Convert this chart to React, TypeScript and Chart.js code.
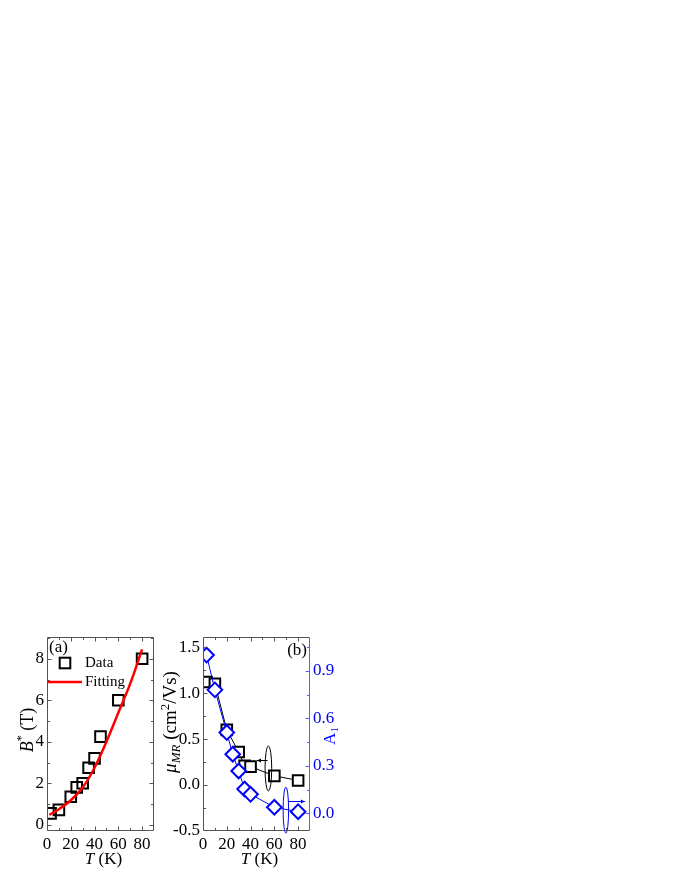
import React, { useEffect, useRef } from "react";
import { Chart, registerables } from "chart.js";

Chart.register(...registerables);

// ---------- Panel (a) data ----------
const tempA: number[] = [3, 10, 20, 25, 30, 35, 40, 45, 60, 80];
const bStarA: number[] = [0.55, 0.72, 1.35, 1.8, 2.0, 2.75, 3.2, 4.25, 6.0, 8.0];
const fitTemp: number[] = [2, 10, 20, 30, 40, 50, 60, 70, 80];
const fitB: number[] = [0.48, 0.75, 1.18, 1.8, 2.75, 4.0, 5.4, 6.8, 8.45];
const xTicksA: number[] = [0, 20, 40, 60, 80];
const yTicksA: number[] = [0, 2, 4, 6, 8];

// ---------- Panel (b) data ----------
const tempMu: number[] = [3, 10, 20, 30, 35, 40, 60, 80];
const muMR: number[] = [1.12, 1.1, 0.6, 0.36, 0.21, 0.2, 0.1, 0.05];
const tempA1: number[] = [3, 10, 20, 25, 30, 35, 40, 60, 80];
const a1Vals: number[] = [1.0, 0.78, 0.51, 0.373, 0.267, 0.153, 0.12, 0.038, 0.01];
const xTicksB: number[] = [0, 20, 40, 60, 80];
const yTicksB: number[] = [-0.5, 0, 0.5, 1.0, 1.5];
const y1TicksB: number[] = [0, 0.3, 0.6, 0.9];

const SERIF = '"Liberation Serif", "Times New Roman", serif';
const FRAME = "#555555";
const BLUE = "#0000ff";
const BLUE_AXIS = "#5a5aff";
const TICK_FONT = 17;

type Seg = { t: string; italic?: boolean; small?: boolean; dy?: number };

function drawRich(ctx: CanvasRenderingContext2D, segs: Seg[], cx: number, cy: number, rot: number, size: number, color: string, smallScale = 0.65) {
  ctx.save();
  ctx.translate(cx, cy);
  if (rot) ctx.rotate(rot);
  ctx.fillStyle = color;
  ctx.textBaseline = "alphabetic";
  ctx.textAlign = "left";
  const fonts = segs.map((s) => `${s.italic ? "italic " : ""}${s.small ? Math.round(size * smallScale) : size}px ${SERIF}`);
  let total = 0;
  const widths = segs.map((s, i) => {
    ctx.font = fonts[i];
    const w = ctx.measureText(s.t).width;
    total += w;
    return w;
  });
  let x = -total / 2;
  const base = size * 0.33;
  segs.forEach((s, i) => {
    ctx.font = fonts[i];
    ctx.fillText(s.t, x, base + (s.dy ?? 0) * size);
    x += widths[i];
  });
  ctx.restore();
}

function stepValues(min: number, max: number, step: number): number[] {
  const out: number[] = [];
  const start = Math.ceil(min / step - 1e-9) * step;
  for (let v = start; v <= max + 1e-9; v += step) out.push(Math.round(v * 1e6) / 1e6);
  return out;
}

function drawFrame(chart: any, opts: { xStep: number; yStep: number; y1?: { step: number; color: string } }) {
  const ctx: CanvasRenderingContext2D = chart.ctx;
  const { left, right, top, bottom } = chart.chartArea;
  const xs = chart.scales.x;
  const ys = chart.scales.y;
  const L = Math.round(left) + 0.5;
  const R = Math.round(right) - 0.5;
  const T = Math.round(top) + 0.5;
  const B = Math.round(bottom) - 0.5;
  const MAJ = 4;
  const MIN = 2.5;
  ctx.save();
  ctx.lineWidth = 1;
  ctx.strokeStyle = FRAME;
  ctx.beginPath();
  ctx.moveTo(L, T);
  ctx.lineTo(R, T);
  ctx.moveTo(L, B);
  ctx.lineTo(R, B);
  ctx.moveTo(L, T);
  ctx.lineTo(L, B);
  if (!opts.y1) {
    ctx.moveTo(R, T);
    ctx.lineTo(R, B);
  }
  stepValues(xs.min, xs.max, opts.xStep / 2).forEach((v) => {
    const p = Math.round(xs.getPixelForValue(v)) + 0.5;
    if (p <= L + 0.1 || p >= R - 0.1) return;
    const isMaj = Math.abs(v / opts.xStep - Math.round(v / opts.xStep)) < 1e-6;
    const len = isMaj ? MAJ : MIN;
    ctx.moveTo(p, B);
    ctx.lineTo(p, B - len);
    ctx.moveTo(p, T);
    ctx.lineTo(p, T + len);
  });
  stepValues(ys.min, ys.max, opts.yStep / 2).forEach((v) => {
    const p = Math.round(ys.getPixelForValue(v)) + 0.5;
    if (p <= T + 0.1 || p >= B - 0.1) return;
    const isMaj = Math.abs(v / opts.yStep - Math.round(v / opts.yStep)) < 1e-6;
    const len = isMaj ? MAJ : MIN;
    ctx.moveTo(L, p);
    ctx.lineTo(L + len, p);
    if (!opts.y1) {
      ctx.moveTo(R, p);
      ctx.lineTo(R - len, p);
    }
  });
  ctx.stroke();
  if (opts.y1) {
    const y1 = chart.scales.y1;
    ctx.strokeStyle = opts.y1.color;
    ctx.beginPath();
    ctx.moveTo(R, T);
    ctx.lineTo(R, B);
    stepValues(y1.min, y1.max, opts.y1.step / 2).forEach((v) => {
      const p = Math.round(y1.getPixelForValue(v)) + 0.5;
      if (p <= T + 0.1 || p >= B - 0.1) return;
      const isMaj = Math.abs(v / opts.y1!.step - Math.round(v / opts.y1!.step)) < 1e-6;
      ctx.moveTo(R, p);
      ctx.lineTo(R - (isMaj ? MAJ : MIN), p);
    });
    ctx.stroke();
  }
  ctx.restore();
}

function drawEllipse(ctx: CanvasRenderingContext2D, cx: number, cy: number, rx: number, ry: number, color: string) {
  ctx.save();
  ctx.strokeStyle = color;
  ctx.lineWidth = 1;
  ctx.beginPath();
  ctx.ellipse(cx, cy, Math.abs(rx), Math.abs(ry), 0, 0, Math.PI * 2);
  ctx.stroke();
  ctx.restore();
}

function drawArrow(ctx: CanvasRenderingContext2D, x0: number, y: number, x1: number, color: string) {
  ctx.save();
  ctx.strokeStyle = color;
  ctx.fillStyle = color;
  ctx.lineWidth = 1;
  ctx.beginPath();
  ctx.moveTo(x0, y);
  ctx.lineTo(x1, y);
  ctx.stroke();
  const dir = Math.sign(x1 - x0);
  ctx.beginPath();
  ctx.moveTo(x1, y);
  ctx.lineTo(x1 - dir * 4, y - 2);
  ctx.lineTo(x1 - dir * 4, y + 2);
  ctx.closePath();
  ctx.fill();
  ctx.restore();
}

const decorA = {
  id: "decorA",
  afterDraw(chart: any) {
    const ctx: CanvasRenderingContext2D = chart.ctx;
    const { left, right, top, bottom } = chart.chartArea;
    drawFrame(chart, { xStep: 20, yStep: 2 });
    ctx.save();
    ctx.fillStyle = "#000";
    ctx.font = `17px ${SERIF}`;
    ctx.textBaseline = "middle";
    ctx.textAlign = "left";
    ctx.fillText("(a)", left + 2, top + 11);
    const sx = left + 18;
    const sy = top + 26;
    ctx.strokeStyle = "#000";
    ctx.lineWidth = 2;
    ctx.strokeRect(sx - 5.3, sy - 5.3, 10.6, 10.6);
    ctx.font = `15px ${SERIF}`;
    ctx.fillText("Data", left + 38, sy);
    ctx.strokeStyle = "#ff0000";
    ctx.lineWidth = 2.5;
    ctx.beginPath();
    ctx.moveTo(left, top + 45);
    ctx.lineTo(left + 35, top + 45);
    ctx.stroke();
    ctx.fillText("Fitting", left + 38, top + 45);
    ctx.restore();
    drawRich(ctx, [{ t: "T", italic: true }, { t: " (K)" }], (left + right) / 2 + 3, bottom + 27, 0, 17, "#000");
    drawRich(
      ctx,
      [{ t: "B", italic: true }, { t: "*", small: true, dy: -0.42 }, { t: " (T)" }],
      left - 20,
      (top + bottom) / 2 - 4,
      -Math.PI / 2,
      18,
      "#000"
    );
  },
};

const decorB = {
  id: "decorB",
  afterDraw(chart: any) {
    const ctx: CanvasRenderingContext2D = chart.ctx;
    const { left, right, top, bottom } = chart.chartArea;
    const xs = chart.scales.x;
    const ys = chart.scales.y;
    const y1 = chart.scales.y1;
    const ex = xs.getPixelForValue(55);
    drawEllipse(ctx, ex, ys.getPixelForValue(0.18), xs.getPixelForValue(57.8) - ex, ys.getPixelForValue(0.18) - ys.getPixelForValue(0.424), "#000");
    drawArrow(ctx, xs.getPixelForValue(54.3), Math.round(ys.getPixelForValue(0.27)) + 0.5, xs.getPixelForValue(45.4), "#000");
    const bx = xs.getPixelForValue(69.7);
    drawEllipse(ctx, bx, y1.getPixelForValue(0.02), xs.getPixelForValue(72) - bx, y1.getPixelForValue(0.02) - y1.getPixelForValue(0.165), BLUE);
    drawArrow(ctx, xs.getPixelForValue(71.4), Math.round(y1.getPixelForValue(0.08)) + 0.5, xs.getPixelForValue(85.7), BLUE);
    drawFrame(chart, { xStep: 20, yStep: 0.5, y1: { step: 0.3, color: BLUE_AXIS } });
    ctx.save();
    ctx.fillStyle = "#000";
    ctx.font = `17px ${SERIF}`;
    ctx.textBaseline = "middle";
    ctx.textAlign = "right";
    ctx.fillText("(b)", right - 3, top + 14);
    ctx.restore();
    drawRich(ctx, [{ t: "T", italic: true }, { t: " (K)" }], (left + right) / 2 + 3, bottom + 27, 0, 17, "#000");
    drawRich(
      ctx,
      [
        { t: "\u03bc", italic: true },
        { t: "MR", italic: true, small: true, dy: 0.22 },
        { t: " (cm" },
        { t: "2", small: true, dy: -0.4 },
        { t: "/Vs)" },
      ],
      left - 33,
      (top + bottom) / 2 - 12,
      -Math.PI / 2,
      19,
      "#000",
      0.7
    );
    drawRich(ctx, [{ t: "A" }, { t: "1", small: true, dy: 0.22 }], right + 19, (top + bottom) / 2 + 2, -Math.PI / 2, 17, BLUE);
  },
};

function tickScale(values: number[], digits: number | null, color: string, size: number, extra: any) {
  return {
    type: "linear",
    grid: { display: false, drawTicks: false },
    border: { display: false },
    ticks: {
      color,
      padding: 3,
      autoSkip: false,
      maxRotation: 0,
      font: { family: SERIF, size },
      callback: (v: number) => (digits === null ? String(v) : Number(v).toFixed(digits)),
    },
    afterBuildTicks: (s: any) => {
      s.ticks = values.map((v) => ({ value: v }));
    },
    ...extra,
  };
}

function configA(): any {
  return {
    type: "line",
    data: {
      datasets: [
        {
          label: "Fitting",
          order: 0,
          data: fitTemp.map((t, i) => ({ x: t, y: fitB[i] })),
          borderColor: "#ff0000",
          borderWidth: 2.5,
          pointRadius: 0,
          cubicInterpolationMode: "monotone",
          fill: false,
        },
        {
          label: "Data",
          order: 1,
          data: tempA.map((t, i) => ({ x: t, y: bStarA[i] })),
          showLine: false,
          pointStyle: "rect",
          pointRadius: 7.5,
          pointBorderWidth: 2,
          pointBorderColor: "#000",
          pointBackgroundColor: "rgba(255,255,255,0)",
          borderColor: "#000",
          clip: 0,
        },
      ],
    },
    options: {
      responsive: false,
      animation: false,
      events: [],
      layout: { padding: { left: 0, top: 37, right: 21, bottom: 0 } },
      plugins: { legend: { display: false }, tooltip: { enabled: false } },
      scales: {
        x: tickScale(xTicksA, null, "#000", TICK_FONT, { min: 0, max: 90, afterFit: (s: any) => { s.height = 49; } }),
        y: tickScale(yTicksA, null, "#000", TICK_FONT, { min: -0.3, max: 9.05, afterFit: (s: any) => { s.width = 47; } }),
      },
    },
    plugins: [decorA],
  };
}

function configB(): any {
  return {
    type: "line",
    data: {
      datasets: [
        {
          label: "A1",
          order: 0,
          yAxisID: "y1",
          data: tempA1.map((t, i) => ({ x: t, y: a1Vals[i] })),
          borderColor: BLUE,
          borderWidth: 1,
          pointStyle: "rectRot",
          pointRadius: 7.3,
          pointBorderWidth: 2,
          pointBorderColor: BLUE,
          pointBackgroundColor: "#ffffff",
          clip: 0,
        },
        {
          label: "muMR",
          order: 1,
          yAxisID: "y",
          data: tempMu.map((t, i) => ({ x: t, y: muMR[i] })),
          borderColor: "#000",
          borderWidth: 1,
          pointStyle: "rect",
          pointRadius: 7.5,
          pointBorderWidth: 2,
          pointBorderColor: "#000",
          pointBackgroundColor: "#ffffff",
          clip: 0,
        },
      ],
    },
    options: {
      responsive: false,
      animation: false,
      events: [],
      layout: { padding: { left: 0, top: 37, right: 0, bottom: 0 } },
      plugins: { legend: { display: false }, tooltip: { enabled: false } },
      scales: {
        x: tickScale(xTicksB, null, "#000", TICK_FONT, { min: 0, max: 90, afterFit: (s: any) => { s.height = 49; } }),
        y: tickScale(yTicksB, 1, "#000", TICK_FONT, { position: "left", min: -0.5, max: 1.61, afterFit: (s: any) => { s.width = 43; } }),
        y1: tickScale(y1TicksB, 1, BLUE, TICK_FONT, { position: "right", min: -0.112, max: 1.114, afterFit: (s: any) => { s.width = 30; } }),
      },
    },
    plugins: [decorB],
  };
}

function ChartCanvas(props: { build: () => any; left: number; top: number; width: number; height: number }) {
  const ref = useRef<HTMLCanvasElement>(null);
  useEffect(() => {
    const chart = new Chart(ref.current as HTMLCanvasElement, props.build());
    return () => chart.destroy();
  }, []);
  return (
    <canvas
      ref={ref}
      width={props.width}
      height={props.height}
      style={{ position: "absolute", left: props.left, top: props.top, width: props.width, height: props.height }}
    />
  );
}

export default function App() {
  return (
    <div style={{ position: "absolute", left: 0, top: 0, width: 680, height: 880, background: "#fff", overflow: "hidden" }}>
      <ChartCanvas build={configA} left={0} top={600} width={175} height={280} />
      <ChartCanvas build={configB} left={160} top={600} width={180} height={280} />
    </div>
  );
}
